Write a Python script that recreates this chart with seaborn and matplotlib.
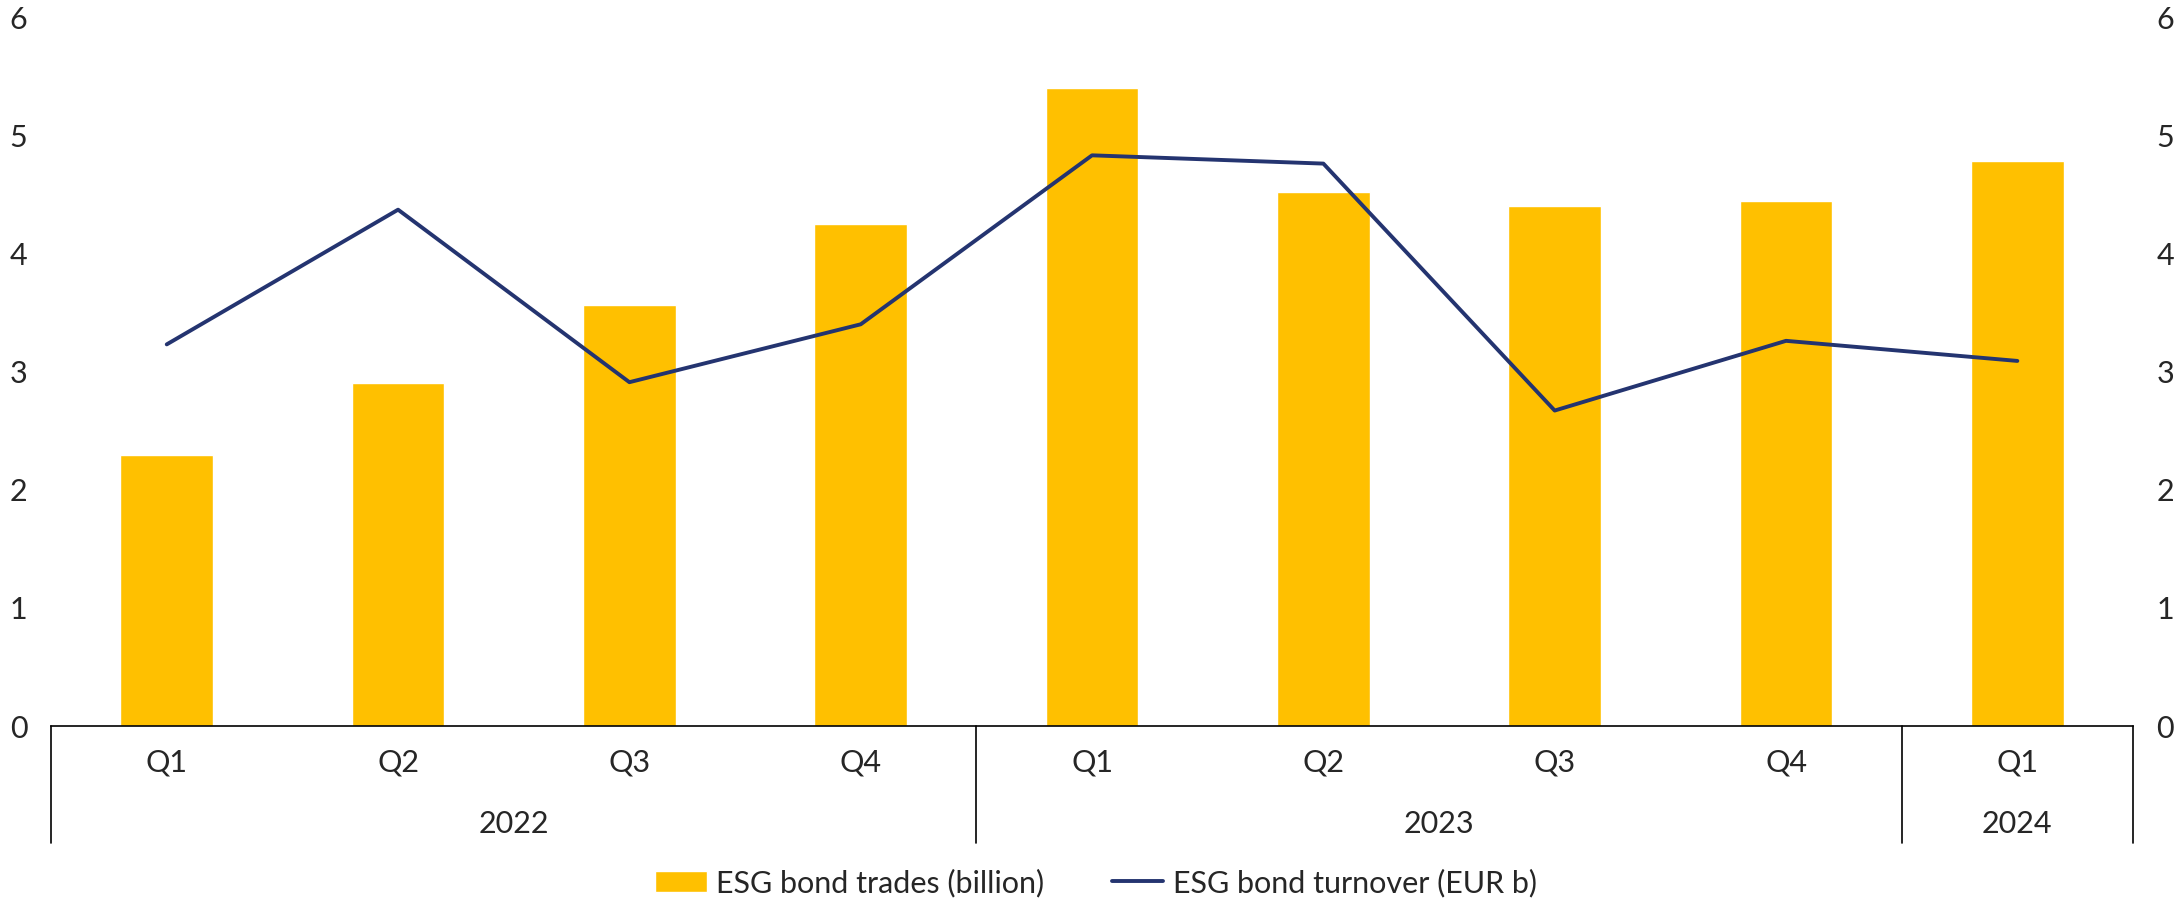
import numpy as np
import pandas as pd
import matplotlib.pyplot as plt
import seaborn as sns

sns.set_style('white')
plt.rcParams['font.family'] = ['Lato', 'DejaVu Sans']

quarters = ['Q1', 'Q2', 'Q3', 'Q4', 'Q1', 'Q2', 'Q3', 'Q4', 'Q1']
years = ['2022', '2022', '2022', '2022', '2023', '2023', '2023', '2023', '2024']
trades = [2.29, 2.90, 3.56, 4.25, 5.40, 4.52, 4.40, 4.44, 4.78]
turnover = [3.23, 4.37, 2.91, 3.40, 4.83, 4.76, 2.67, 3.26, 3.09]

df = pd.DataFrame({'period': [y + ' ' + q for y, q in zip(years, quarters)],
                   'pos': np.arange(len(quarters)),
                   'trades': trades, 'turnover': turnover})

bar_color = '#FFC000'
line_color = '#243470'

fig = plt.figure(figsize=(21.83, 8.99), dpi=100)
ax = fig.add_axes([0.0234, 0.1924, 0.9537, 0.7886])

sns.barplot(data=df, x='period', y='trades', color=bar_color, width=0.4,
            saturation=1, ax=ax, label='ESG bond trades (billion)')
ax2 = ax.twinx()
sns.lineplot(data=df, x='pos', y='turnover', color=line_color, linewidth=2.8,
             sort=False, ax=ax2, label='ESG bond turnover (EUR b)')

for a in (ax, ax2):
    a.set_ylim(0, 6)
    a.set_xlim(-0.5, len(quarters) - 0.5)
    a.set_yticks(range(7))
    a.set_xlabel('')
    a.set_ylabel('')
    for s in a.spines.values():
        s.set_visible(False)
    a.tick_params(axis='y', length=0, labelsize=22, pad=17)
    if a.get_legend() is not None:
        a.get_legend().remove()

ax.spines['bottom'].set_visible(True)
ax.spines['bottom'].set_color('black')
ax.spines['bottom'].set_linewidth(1.2)
ax.set_xticks(range(len(quarters)))
ax.set_xticklabels(quarters)
ax.tick_params(axis='x', length=0, labelsize=22, pad=16)

# group separators and year labels
trans = ax.get_xaxis_transform()
for xs in [-0.5, 3.5, 7.5, 8.5]:
    ax.plot([xs, xs], [0, -0.165], transform=trans, color='black',
            linewidth=1.2, clip_on=False)
groups = {}
for i, y in enumerate(years):
    groups.setdefault(y, []).append(i)
for y, idx in groups.items():
    ax.text(np.mean(idx), -0.138, y, transform=trans, ha='center', va='center',
            fontsize=22)

h1, l1 = ax.get_legend_handles_labels()
h2, l2 = ax2.get_legend_handles_labels()
fig.legend(h1 + h2, l1 + l2, loc='center', bbox_to_anchor=(0.502, 0.018),
           ncol=2, frameon=False, fontsize=22, handlelength=1.7,
           handletextpad=0.3, columnspacing=2.2)

fig.savefig('out.png', dpi=100)
